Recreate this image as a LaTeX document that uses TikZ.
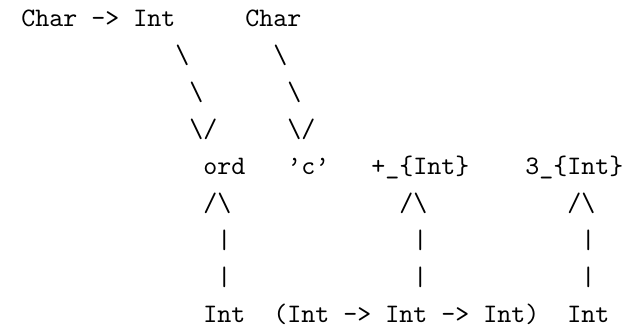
\documentclass[tikz,border=0pt]{standalone}
\usepackage{fontspec}
\setmonofont{lmmono10-regular}[Extension=.otf]
\begin{document}
\begin{tikzpicture}[x=0.5pt,y=-0.5pt,
  tt/.style={inner sep=0pt,anchor=base west,font=\fontsize{13.33}{16}\selectfont\ttfamily}]
\useasboundingbox (0,0) rectangle (627,326);
\def\cx#1{21+14*#1}
\def\ly#1{27+36.875*(#1-1)}
% line 1
\node[tt] (t1) at ({\cx{0}},{\ly{1}}) {Char -> Int};
\node[tt] (c1) at ({\cx{16}},{\ly{1}}) {Char};
% lines 2-4
\node[tt] (a2) at ({\cx{11}},{\ly{2}}) {\textbackslash};
\node[tt] (b2) at ({\cx{18}},{\ly{2}}) {\textbackslash};
\node[tt] (a3) at ({\cx{12}},{\ly{3}}) {\textbackslash};
\node[tt] (b3) at ({\cx{19}},{\ly{3}}) {\textbackslash};
\node[tt] (a4) at ({\cx{12}},{\ly{4}}) {\textbackslash/};
\node[tt] (b4) at ({\cx{19}},{\ly{4}}) {\textbackslash/};
% line 5
\node[tt] (ord) at ({\cx{13}},{\ly{5}}) {ord};
\node[tt] (chr) at ({\cx{19}},{\ly{5}}) {’c’};
\node[tt] (plus) at ({\cx{25}},{\ly{5}}) {+\_\{Int\}};
\node[tt] (three) at ({\cx{36}},{\ly{5}}) {3\_\{Int\}};
% line 6
\node[tt] (u1) at ({\cx{13}},{\ly{6}}) {/\textbackslash};
\node[tt] (u2) at ({\cx{27}},{\ly{6}}) {/\textbackslash};
\node[tt] (u3) at ({\cx{39}},{\ly{6}}) {/\textbackslash};
% lines 7-8
\foreach \r in {7,8}{
  \node[tt] (p1\r) at ({\cx{14}},{\ly{\r}}) {|};
  \node[tt] (p2\r) at ({\cx{28}},{\ly{\r}}) {|};
  \node[tt] (p3\r) at ({\cx{40}},{\ly{\r}}) {|};
}
% line 9
\node[tt] (i1) at ({\cx{13}},{\ly{9}}) {Int};
\node[tt] (fn) at ({\cx{18}},{\ly{9}}) {(Int -> Int -> Int)};
\node[tt] (i3) at ({\cx{39}},{\ly{9}}) {Int};
\end{tikzpicture}
\end{document}
